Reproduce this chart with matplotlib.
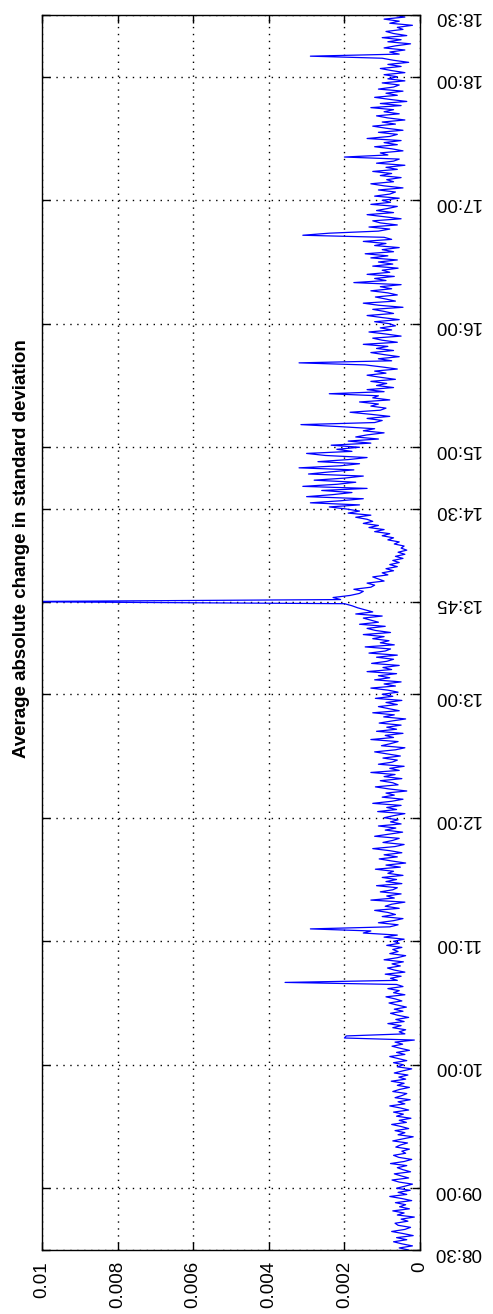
import numpy as np
import matplotlib.pyplot as plt

plt.rcParams['font.family'] = ['Liberation Sans', 'DejaVu Sans']

# average absolute change, in units of 1e-5, one sample per minute from 08:30
avg_change = [
    30, 55, 20, 48, 70, 35, 62, 18, 45, 75, 40, 25, 58, 66, 32, 50, 15, 60, 42, 72, 28, 54, 38, 65, 22, 48, 80, 35, 58, 26,
    62, 40, 20, 55, 74, 30, 50, 68, 25, 45, 60, 35, 78, 42, 22, 56, 70, 38, 48, 28, 64, 52, 33, 72, 45, 18, 58, 40, 66, 30,
    50, 75, 36, 55, 24, 62, 44, 70, 30, 52, 80, 40, 58, 26, 66, 48, 35, 72, 54, 28, 60, 42, 76, 38, 56, 32, 68, 46, 22, 60,
    44, 70, 35, 58, 80, 40, 62, 28, 52, 74, 46, 66, 15, 200, 195, 40, 55, 38, 72, 50, 85, 42, 64, 30, 58, 78, 45, 68, 36, 60,
    82, 48, 66, 90, 40, 70, 55, 85, 45, 62, 357, 60, 78, 50, 92, 40, 68, 86, 52, 74, 44, 95, 60, 38, 80, 58, 72, 48, 88, 55,
    70, 42, 95, 60, 150, 130, 290, 80, 58, 110, 70, 45, 100, 65, 85, 120, 55, 92, 75, 40, 130, 68, 88, 50, 105, 72, 60, 115, 48, 90,
    62, 100, 45, 85, 70, 118, 52, 90, 38, 75, 108, 60, 95, 48, 80, 125, 66, 42, 98, 72, 55, 120, 82, 46, 92, 64, 110, 50, 78, 58,
    95, 70, 40, 112, 62, 88, 50, 125, 75, 45, 100, 68, 90, 35, 82, 118, 58, 72, 105, 48, 95, 66, 130, 55, 80, 42, 110, 74, 60, 98,
    52, 86, 120, 65, 40, 102, 78, 58, 130, 70, 92, 45, 115, 62, 88, 50, 108, 75, 38, 96, 68, 125, 55, 82, 110, 60, 90, 48, 118, 72,
    100, 58, 85, 130, 65, 95, 50, 120, 80, 110, 62, 140, 75, 98, 55, 128, 88, 70, 115, 60, 135, 92, 78, 145, 68, 105, 82, 125, 95, 150,
    78, 118, 140, 92, 160, 110, 130, 150, 100, 170, 125, 145, 165, 180, 200, 1100, 210, 230, 185, 160, 150, 175, 130, 120, 140, 95, 110, 125, 85, 100,
    70, 90, 60, 80, 55, 72, 45, 65, 40, 58, 35, 50, 42, 68, 55, 85, 70, 100, 80, 120, 95, 135, 110, 150, 125, 140, 170, 130, 190, 160,
    195, 240, 160, 290, 210, 150, 300, 230, 180, 260, 140, 310, 220, 170, 280, 200, 150, 295, 240, 175, 320, 210, 160, 270, 190, 140, 250, 300, 180, 220,
    160, 235, 130, 190, 110, 170, 140, 95, 150, 120, 210, 315, 120, 100, 140, 80, 130, 185, 105, 90, 130, 110, 160, 80, 125, 110, 240, 95, 140, 70,
    115, 88, 130, 65, 105, 140, 90, 120, 60, 100, 145, 320, 75, 110, 55, 95, 130, 70, 115, 85, 150, 60, 100, 125, 50, 90, 135, 75, 105, 65,
    80, 120, 55, 100, 140, 70, 95, 125, 45, 110, 150, 65, 90, 118, 60, 85, 130, 75, 105, 50, 175, 90, 120, 68, 140, 80, 100, 58, 125, 72,
    110, 60, 130, 85, 145, 70, 100, 55, 120, 90, 150, 75, 95, 310, 240, 110, 80, 135, 60, 105, 125, 50, 95, 140, 70, 115, 85, 60, 130, 78,
    100, 55, 120, 80, 65, 110, 45, 95, 130, 70, 88, 50, 105, 75, 125, 60, 90, 40, 115, 70, 55, 200, 85, 105, 45, 75, 120, 60, 95, 50,
    140, 80, 60, 110, 45, 90, 125, 65, 100, 40, 85, 115, 55, 95, 70, 130, 50, 105, 35, 80, 120, 60, 90, 45, 110, 70, 55, 100, 40, 85,
    60, 95, 40, 75, 105, 50, 85, 30, 70, 100, 290, 55, 80, 40, 95, 65, 25, 85, 50, 100, 35, 70, 90, 45, 60, 20, 80, 55, 95, 40,
    70,
]

time_ticks = [0, 30, 90, 150, 210, 270, 315, 360, 390, 450, 510, 570, 600]
time_labels = ['08:30', '09:00', '10:00', '11:00', '12:00', '13:00', '13:45',
               '14:30', '15:00', '16:00', '17:00', '18:00', '18:30']
value_ticks = [0, 0.002, 0.004, 0.006, 0.008, 0.01]
value_labels = ['0', '0.002', '0.004', '0.006', '0.008', '0.01']

vals = np.array(avg_change) * 1e-5
minutes = np.arange(len(vals))

fig = plt.figure(figsize=(4.93, 13.14), dpi=100)
ax = fig.add_axes([42 / 493, 64 / 1314, 378 / 493, 1235 / 1314])

ax.plot(vals, minutes, color='#0000ff', lw=0.9)

ax.set_xlim(0.01, 0)
ax.set_ylim(0, 600)
ax.set_xticks(value_ticks)
ax.set_xticklabels(value_labels)
ax.set_yticks(time_ticks)
ax.set_yticklabels(time_labels)

ax.grid(True, color='black', linestyle=(0, (1, 4)), linewidth=1.0)
ax.tick_params(direction='in', length=6, width=1, labelsize=13.5,
               top=True, right=True, left=True, bottom=True)
ax.tick_params(axis='y', labelleft=False, labelright=True, labelrotation=180, pad=10)
ax.tick_params(axis='x', labelrotation=90, pad=8)
for s in ax.spines.values():
    s.set_linewidth(1.0)

fig.text(22 / 493, 1 - 549 / 1314, 'Average absolute change in standard deviation',
         rotation=90, ha='center', va='center', fontsize=13.5, fontweight='bold')

fig.savefig('out.png', dpi=100)
